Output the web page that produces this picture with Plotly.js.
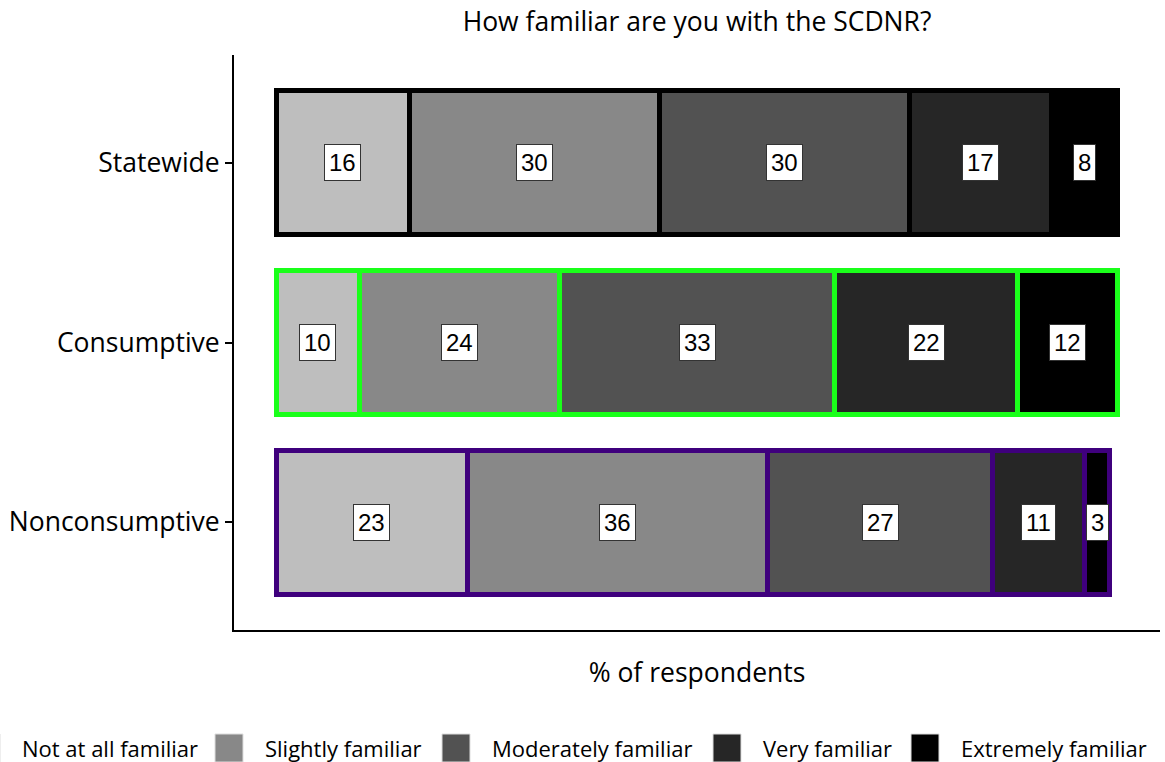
<!DOCTYPE html>
<html>
<head>
<meta charset="utf-8">
<script src="https://cdn.plot.ly/plotly-3.0.1.min.js"></script>
<style>
  html, body { margin: 0; padding: 0; background: #fff; }
  #chart { width: 1165px; height: 762px; }
</style>
</head>
<body>
<div id="chart"></div>
<script>
const groups = ['Statewide', 'Consumptive', 'Nonconsumptive'];
const levels = ['Not at all familiar', 'Slightly familiar', 'Moderately familiar', 'Very familiar', 'Extremely familiar'];

const notAtAll = [16, 10, 23];
const slightly = [30, 24, 36];
const moderately = [30, 33, 27];
const very = [17, 22, 11];
const extremely = [8, 12, 3];

const fillColors = ['#bebebe', '#888888', '#525252', '#262626', '#000000'];
const outlineColors = ['#000000', '#1aff1a', '#3f007d'];

const series = [notAtAll, slightly, moderately, very, extremely];
const font = 'Open Sans, Noto Sans, sans-serif';

// plot area in pixels, used for the hand made legend below
const W = 1165, H = 762;
const plotL = 234, plotR = 1160, plotT = 55, plotB = 630;
const px = (x) => (x - plotL) / (plotR - plotL);
const py = (y) => (plotB - y) / (plotB - plotT);

const data = series.map((vals, i) => ({
  type: 'bar',
  orientation: 'h',
  name: levels[i],
  y: groups,
  x: vals,
  width: 0.8,
  marker: {
    color: fillColors[i],
    line: {color: outlineColors, width: 5}
  },
  showlegend: false,
  hoverinfo: 'x+y+name'
}));

// value labels at the middle of each stacked segment
const annotations = [];
groups.forEach((g, gi) => {
  let start = 0;
  series.forEach((vals) => {
    const v = vals[gi];
    annotations.push({
      x: start + v / 2,
      y: g,
      xref: 'x',
      yref: 'y',
      text: String(v),
      showarrow: false,
      bgcolor: '#ffffff',
      bordercolor: '#333333',
      borderwidth: 1,
      borderpad: 4,
      font: {family: 'Liberation Sans, Arial, sans-serif', size: 24, color: '#000'}
    });
    start += v;
  });
});

// legend: swatch then label, first swatch runs off the left edge like the original
const legendSwatchX = [-28, 215, 442, 713, 911];
const legendY = 748;
const shapes = [];
levels.forEach((name, i) => {
  const x0 = legendSwatchX[i];
  shapes.push({
    type: 'rect', xref: 'paper', yref: 'paper',
    x0: px(x0), x1: px(x0 + 28), y0: py(legendY + 14), y1: py(legendY - 14),
    fillcolor: fillColors[i], line: {color: '#dddddd', width: 1}
  });
  annotations.push({
    xref: 'paper', yref: 'paper',
    x: px(x0 + 48), y: py(legendY),
    xanchor: 'left', yanchor: 'middle',
    text: name, showarrow: false,
    font: {family: font, size: 22, color: '#000'}
  });
});

const layout = {
  width: W,
  height: H,
  barmode: 'stack',
  paper_bgcolor: '#fff',
  plot_bgcolor: '#fff',
  margin: {l: plotL, r: W - plotR, t: plotT, b: H - plotB},
  showlegend: false,
  title: {
    text: 'How familiar are you with the SCDNR?',
    font: {family: font, size: 26.5, color: '#000'},
    xref: 'paper', x: 0.5, xanchor: 'center',
    yref: 'container', y: 0.971, yanchor: 'middle'
  },
  xaxis: {
    range: [-5.05, 106.05],
    showgrid: false,
    zeroline: false,
    showticklabels: false,
    ticks: '',
    showline: true,
    linecolor: '#000',
    linewidth: 2,
    title: {text: '% of respondents', font: {family: font, size: 26.5, color: '#000'}, standoff: 32}
  },
  yaxis: {
    type: 'category',
    categoryorder: 'array',
    categoryarray: groups,
    range: [2.6, -0.6],
    showgrid: false,
    zeroline: false,
    showline: true,
    linecolor: '#000',
    linewidth: 2,
    ticks: 'outside',
    ticklen: 7,
    tickwidth: 2,
    tickcolor: '#000',
    tickfont: {family: font, size: 26.5, color: '#000'}
  },
  shapes: shapes,
  annotations: annotations
};

Plotly.newPlot('chart', data, layout, {displayModeBar: false, staticPlot: true});
</script>
</body>
</html>
